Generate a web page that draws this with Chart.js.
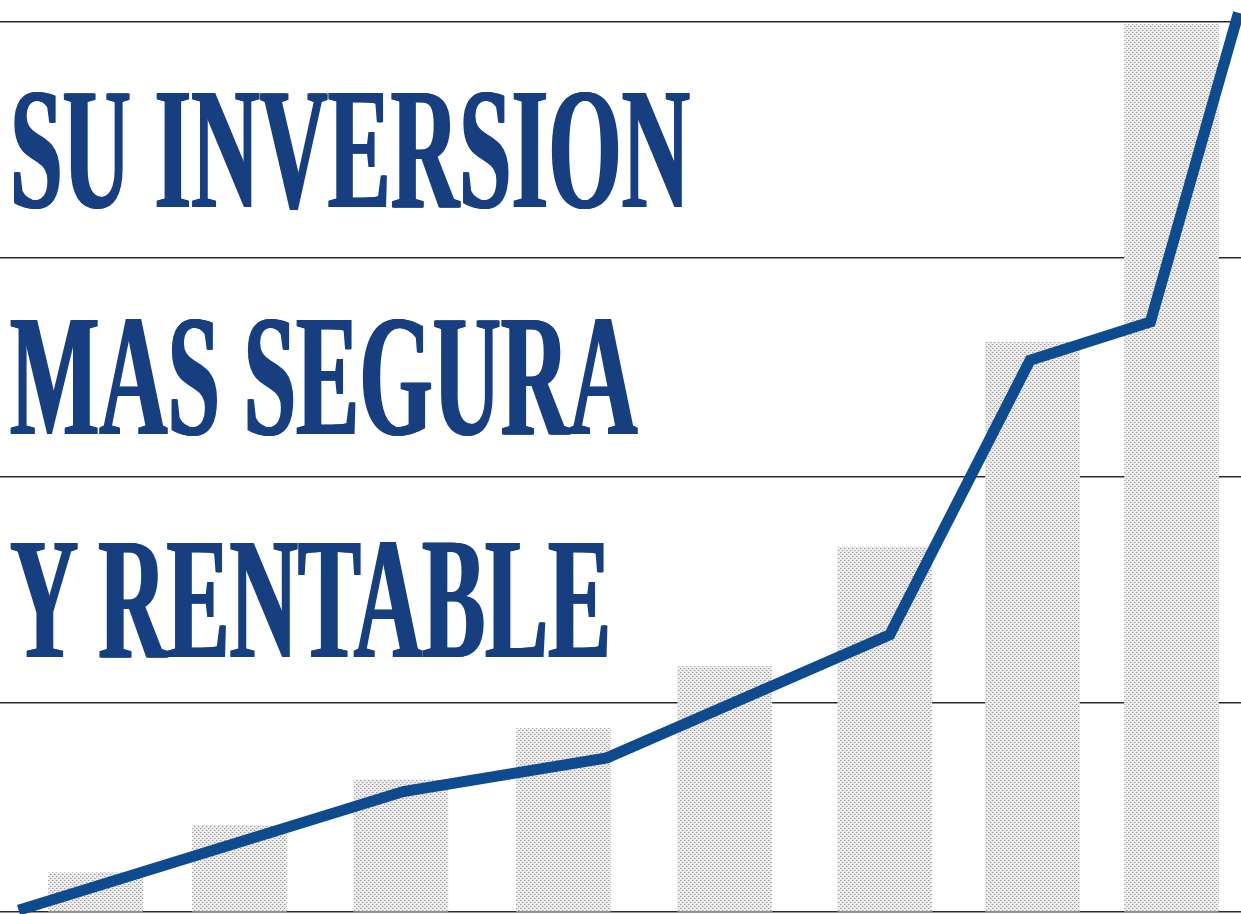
<!DOCTYPE html>
<html>
<head>
<meta charset="utf-8">
<script src="https://cdn.jsdelivr.net/npm/chart.js@4.4.1/dist/chart.umd.min.js"></script>
<style>
	html, body { margin: 0; padding: 0; background: #ffffff; }
	#wrap { position: relative; width: 1241px; height: 914px; overflow: hidden; background: #ffffff; }
	#chart { position: absolute; left: 0; top: 0; }
	.headline {
		position: absolute;
		left: 9px;
		font-family: 'Liberation Serif', 'Times New Roman', serif;
		font-weight: bold;
		font-size: 174px;
		line-height: 1;
		color: #173f80;
		white-space: nowrap;
		text-shadow: 2px 0 0 #173f80, 4px 0 0 #173f80;
		transform: scaleX(0.543);
		transform-origin: 0 0;
	}
</style>
</head>
<body>
<div id="wrap">
	<canvas id="chart" width="1241" height="914"></canvas>
</div>
<script>
// Headline text, one entry per printed line.
var TITLE_LINES = ['SU INVERSION', 'MAS SEGURA', 'Y RENTABLE'];

// Bars: position along the (unlabelled) x axis and height, 0..100 scale.
var BAR_X = [7.7, 19.3, 32.3, 45.4, 58.4, 71.3, 83.2, 94.4];
var BAR_VALUES = [4.3, 9.5, 14.5, 20.1, 26.9, 40.0, 62.5, 97.3];

// Trend line drawn over the bars.
var LINE_X = [1.5, 32.5, 48.9, 71.7, 83.0, 92.7, 99.8];
var LINE_VALUES = [0.2, 13.2, 16.9, 30.4, 60.5, 64.7, 98.6];

// Horizontal rules behind the bars.
var GUIDE_LINES = [0, 22.9, 47.7, 71.7, 97.6];

// Put the headline in as real text.
var headTops = [62, 289, 512];
var wrap = document.getElementById('wrap');
for (var i = 0; i < TITLE_LINES.length; i++) {
	var div = document.createElement('div');
	div.className = 'headline';
	div.style.top = headTops[i] + 'px';
	div.textContent = TITLE_LINES[i];
	wrap.appendChild(div);
}

// Printed screen look for the bars.
function makeDotPattern() {
	var tile = document.createElement('canvas');
	tile.width = 4;
	tile.height = 4;
	var c = tile.getContext('2d');
	c.fillStyle = '#ececec';
	c.fillRect(0, 0, 4, 4);
	c.fillStyle = '#9e9e9e';
	c.fillRect(0, 0, 1, 1);
	c.fillRect(2, 2, 1, 1);
	c.fillStyle = '#cdcdcd';
	c.fillRect(1, 0, 1, 1);
	c.fillRect(3, 2, 1, 1);
	return document.getElementById('chart').getContext('2d').createPattern(tile, 'repeat');
}

var barPoints = BAR_X.map(function (x, i) { return { x: x, y: BAR_VALUES[i] }; });
var linePoints = LINE_X.map(function (x, i) { return { x: x, y: LINE_VALUES[i] }; });

var chart = new Chart(document.getElementById('chart'), {
	type: 'bar',
	data: {
		datasets: [
			{
				type: 'line',
				data: linePoints,
				borderColor: '#0d4a8e',
				borderWidth: 11,
				borderJoinStyle: 'miter',
				borderCapStyle: 'butt',
				pointRadius: 0,
				tension: 0,
				fill: false,
				clip: false,
				order: 0
			},
			{
				type: 'bar',
				data: barPoints,
				backgroundColor: makeDotPattern(),
				borderWidth: 0,
				barThickness: 94,
				order: 1
			}
		]
	},
	options: {
		responsive: false,
		animation: false,
		devicePixelRatio: 1,
		layout: { padding: { left: 0, right: 0, top: 0, bottom: 2 } },
		plugins: {
			legend: { display: false },
			tooltip: { enabled: false },
			title: { display: false }
		},
		scales: {
			x: {
				type: 'linear',
				min: 0,
				max: 100,
				offset: false,
				display: false
			},
			y: {
				type: 'linear',
				min: 0,
				max: 100,
				afterBuildTicks: function (scale) {
					scale.ticks = GUIDE_LINES.map(function (v) { return { value: v }; });
				},
				ticks: { display: false },
				border: { display: false },
				grid: {
					color: '#2b2b2b',
					lineWidth: 1.6,
					drawTicks: false
				}
			}
		}
	}
});
</script>
</body>
</html>
